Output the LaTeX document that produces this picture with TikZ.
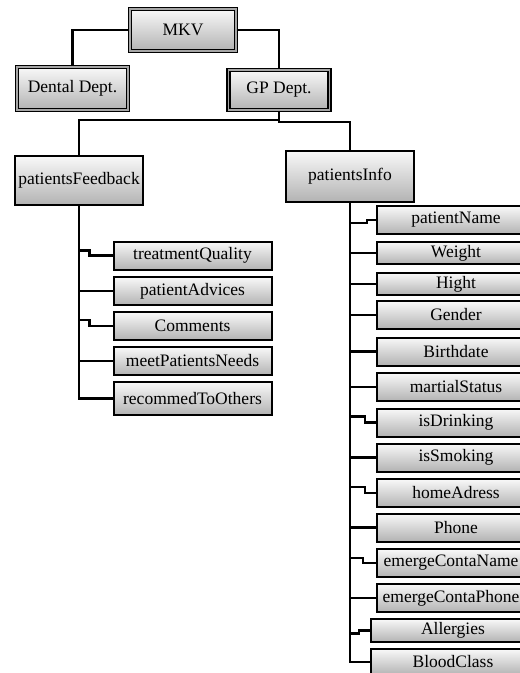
\documentclass[tikz,border=0pt]{standalone}
\usepackage{fontspec}
\setmainfont{Liberation Serif}
\usepackage{tikz}
\usetikzlibrary{positioning,calc}
\tikzstyle{field} = [rectangle, draw, line width=2pt, top color=gray!5, bottom color=gray!60, inner sep=0pt, minimum width=158pt, minimum height=28pt, font=\fontsize{17.5}{20}\selectfont]
\tikzstyle{dept} = [field, line width=1.5pt, double=gray!70, double distance=1.4pt]
\tikzstyle{line} = [draw, line width=2.1pt]

\begin{document}
\begin{tikzpicture}[x=1pt, y=-1pt]
	\useasboundingbox (0,0) rectangle (520,673);
	% First row
	\node [dept, minimum width=106pt, minimum height=42pt] (MKV) at (183,30) {MKV};
	\node [dept, minimum width=111pt, minimum height=43pt] (dental) at (72.5,88.5) {Dental Dept.};
	\node [dept, minimum width=101pt, minimum height=40pt] (GP) at (279,90) {GP Dept.};
	
	% Second row
	\node [field, minimum width=128pt, minimum height=49pt] (feedback) at (79,180.5) {patientsFeedback};
	\node [field, minimum width=128pt, minimum height=51pt] (info) at (350,176.5) {patientsInfo};
	\coordinate (fork) at ($(GP.south)+(0,9)$);
	
	% Feedback column
	\node [field] (treatment-quality) at (192.5,255.5) {treatmentQuality};
	\node [field] (patient-advices) at (192.5,291) {patientAdvices};
	\node [field] (comments) at (192.5,326) {Comments};
	\node [field] (meet-needs) at (192.5,361) {meetPatientsNeeds};
	\node [field, minimum height=33pt] (recommend) at (192.5,398.5) {recommedToOthers};
	
	% Info column
	\node [field] (patient-name) at (456,220) {patientName};
	\node [field, minimum height=22pt] (weight) at (456,253) {Weight};
	\node [field, minimum height=22pt] (hight) at (456,284) {Hight};
	\node [field] (gender) at (456,315) {Gender};
	\node [field] (birthdate) at (456,351.5) {Birthdate};
	\node [field] (martial-status) at (456,387) {martialStatus};
	\node [field] (is-drinking) at (456,422.5) {isDrinking};
	\node [field] (is-smoking) at (456,457.5) {isSmoking};
	\node [field] (home-adress) at (456,493) {homeAdress};
	\node [field] (phone) at (456,527.5) {Phone};
	\node [field, minimum width=148pt] (conta-name) at (451,563) {emergeContaName};
	\node [field, minimum width=148pt] (conta-phone) at (451,598) {emergeContaPhone};
	\node [field, minimum height=23pt, minimum width=164pt] (allergies) at (453,630.5) {Allergies};
	\node [field, minimum height=26pt, minimum width=164pt] (blood-class) at (453,662) {BloodClass};
	
	% Paths
	\path [line] (MKV.west) -| (dental.north);
	\path [line] (MKV.east) -| (GP.north);
	\path [line] (GP.south) -- (fork) -| (feedback.north);
	\path [line] (fork) -- ++(0,2) -| (info.north);
	
	\path [line] (feedback.south) |- (recommend.west);
	\path [line] ($(feedback.south |- treatment-quality.west)+(0,-5)$) -| ($(treatment-quality.west)+(-23,0)$) -- (treatment-quality.west);
	\path [line] (feedback.south |- patient-advices.west) -- (patient-advices.west);
	\path [line] ($(feedback.south |- comments.west)+(0,-6)$) -| ($(comments.west)+(-23,0)$) -- (comments.west);
	\path [line] (feedback.south |- meet-needs.west) -- (meet-needs.west);
	
	\path [line] (info.south) |- (blood-class.west);
	\path [line] ($(info.south |- patient-name.west)+(0,3)$) -| ($(patient-name.west)+(-9,0)$) -- (patient-name.west);
	\path [line] (info.south |- weight.west) -- (weight.west);
	\path [line] (info.south |- hight.west) -- (hight.west);
	\path [line] (info.south |- gender.west) -- (gender.west);
	\path [line] (info.south |- birthdate.west) -- (birthdate.west);
	\path [line] (info.south |- martial-status.west) -- (martial-status.west);
	\path [line] ($(info.south |- is-drinking.west)+(0,-6)$) -| ($(is-drinking.west)+(-11,0)$) -- (is-drinking.west);
	\path [line] (info.south |- is-smoking.west) -- (is-smoking.west);
	\path [line] ($(info.south |- home-adress.west)+(0,-6)$) -| ($(home-adress.west)+(-11,0)$) -- (home-adress.west);
	\path [line] (info.south |- phone.west) -- (phone.west);
	\path [line] ($(info.south |- conta-name.west)+(0,-5)$) -| ($(conta-name.west)+(-13,0)$) -- (conta-name.west);
	\path [line] (info.south |- conta-phone.west) -- (conta-phone.west);
	\path [line] ($(info.south |- allergies.west)+(0,3)$) -| ($(allergies.west)+(-11,0)$) -- (allergies.west);
\end{tikzpicture}
\end{document}
